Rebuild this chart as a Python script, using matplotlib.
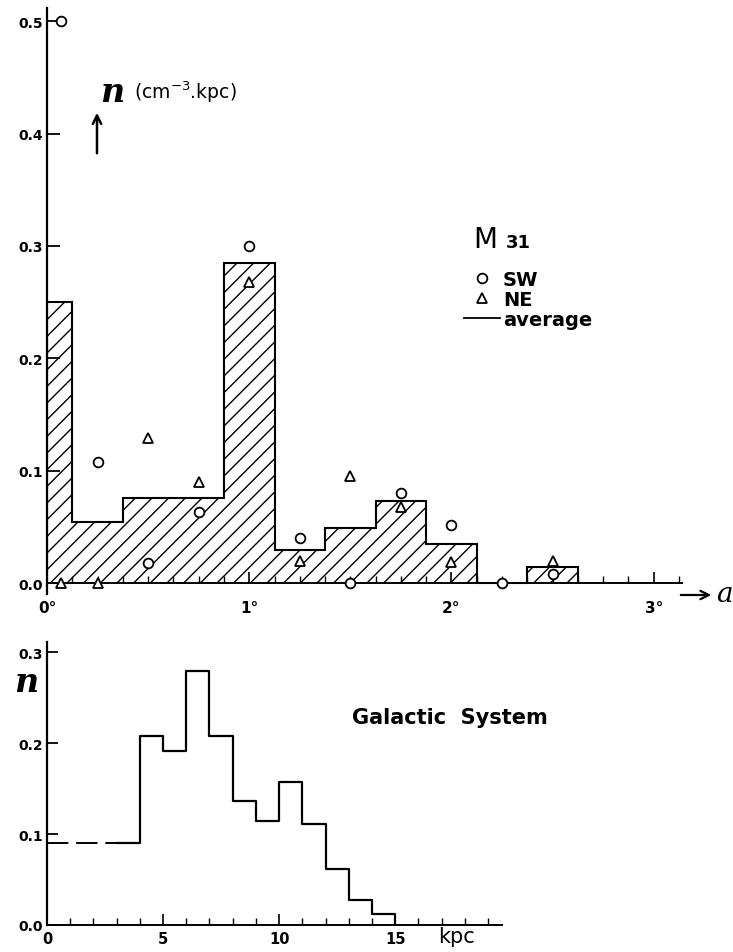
import numpy as np
import matplotlib
matplotlib.use("Agg")
import matplotlib.pyplot as plt
from matplotlib.lines import Line2D
from matplotlib.ticker import MultipleLocator, FixedLocator

# ---------------- data ----------------
# M31: averaged histogram (bin edges in degrees, n in cm^-3 kpc)
m31_edges = [0.0, 0.125, 0.375, 0.875, 1.125, 1.375, 1.625, 1.875, 2.125, 2.375, 2.625]
m31_avg = [0.250, 0.054, 0.076, 0.285, 0.029, 0.049, 0.073, 0.035, 0.0, 0.014]

# individual points
alpha_pts = [0.07, 0.25, 0.5, 0.75, 1.0, 1.25, 1.5, 1.75, 2.0, 2.25, 2.5]
sw_vals = [0.500, 0.108, 0.018, 0.063, 0.300, 0.040, 0.000, 0.080, 0.052, 0.000, 0.008]
ne_vals = [0.000, 0.000, 0.129, 0.090, 0.268, 0.020, 0.095, 0.068, 0.019, np.nan, 0.020]

m31_yticks = [0.0, 0.1, 0.2, 0.3, 0.4, 0.5]
m31_xticks = [0, 1, 2, 3]
m31_xticklabels = ["0°", "1°", "2°", "3°"]

# Galactic system histogram (kpc)
gal_edges = [3, 4, 5, 6, 7, 8, 9, 10, 11, 12, 13, 14, 15]
gal_vals = [0.090, 0.208, 0.191, 0.279, 0.208, 0.136, 0.114, 0.157, 0.111, 0.062, 0.027, 0.012]
gal_inner_x = [0, 3]          # dashed extrapolation
gal_inner_val = 0.090
gal_yticks = [0.0, 0.1, 0.2, 0.3]
gal_xticks = [0, 5, 10, 15]

# ---------------- figure ----------------
W, H = 733, 953
fig = plt.figure(figsize=(W / 100, H / 100), dpi=100)
plt.rcParams['hatch.linewidth'] = 1.0

def fx(px):
    return px / W

def fy(py):
    return 1 - py / H

tickfont = dict(family="DejaVu Sans", weight="bold", size=10)

# ---------------- top panel ----------------
ax1 = fig.add_axes([fx(47), fy(595.3), 635 / W, 586.6 / H])
ax1.set_xlim(0, 3.14)
ax1.set_ylim(-0.01, 0.512)
for s in ["top", "right"]:
    ax1.spines[s].set_visible(False)
ax1.spines["bottom"].set_position(("data", 0))
ax1.spines["left"].set_linewidth(1.6)
ax1.spines["bottom"].set_linewidth(1.4)

widths = np.diff(m31_edges)
# hatched fill without individual bar outlines
ax1.bar(m31_edges[:-1], m31_avg, width=widths, align="edge", facecolor="none",
        hatch="//", edgecolor="black", linewidth=0, zorder=2)
# histogram outline
ax1.stairs(m31_avg, m31_edges, baseline=0, color="black", lw=1.5, zorder=3)

ax1.plot(alpha_pts, sw_vals, ls="none", marker="o", ms=7, mfc="white",
         mec="black", mew=1.3, clip_on=False, zorder=4)
ax1.plot(alpha_pts, ne_vals, ls="none", marker="^", ms=7.5, mfc="white",
         mec="black", mew=1.3, clip_on=False, zorder=4)

ax1.yaxis.set_major_locator(FixedLocator(m31_yticks))
ax1.set_yticklabels([f"{v:.1f}" for v in m31_yticks], fontdict=tickfont)
ax1.xaxis.set_major_locator(FixedLocator(m31_xticks))
ax1.xaxis.set_minor_locator(MultipleLocator(0.125))
ax1.set_xticklabels(m31_xticklabels, fontdict=dict(family="DejaVu Sans", weight="bold", size=11))
ax1.tick_params(axis="y", direction="in", length=9, width=1.3, pad=3)
ax1.tick_params(axis="x", which="major", direction="in", length=8, width=1.2, pad=12)
ax1.tick_params(axis="x", which="minor", direction="in", length=5, width=1.0)

# y-label with arrow
fig.text(fx(100), fy(92), "n", fontsize=24, family="DejaVu Serif", style="italic",
         weight="bold", va="center", ha="left")
fig.text(fx(134), fy(92), r"(cm$^{-3}$.kpc)", fontsize=13.5, family="DejaVu Sans",
         va="center", ha="left")
fig.add_artist(matplotlib.patches.FancyArrowPatch(
    (fx(97), fy(157)), (fx(97), fy(111)), transform=fig.transFigure,
    arrowstyle="->,head_length=6,head_width=3", lw=1.8, color="black"))

# x-label with arrow
fig.add_artist(matplotlib.patches.FancyArrowPatch(
    (fx(678), fy(596)), (fx(714), fy(596)), transform=fig.transFigure,
    arrowstyle="->,head_length=6,head_width=3", lw=1.6, color="black"))
fig.text(fx(716), fy(594), "a", fontsize=20, family="DejaVu Serif", style="italic",
         va="center", ha="left")

# M31 title and legend
fig.text(fx(473), fy(240), "M", fontsize=20, family="DejaVu Sans", va="center", ha="left")
fig.text(fx(506), fy(243), "31", fontsize=13, family="DejaVu Sans", weight="bold",
         va="center", ha="left")
handles = [Line2D([], [], ls="none", marker="o", ms=7, mfc="white", mec="black", mew=1.3),
           Line2D([], [], ls="none", marker="^", ms=7, mfc="white", mec="black", mew=1.3),
           Line2D([], [], color="black", lw=1.3)]
fig.legend(handles, ["SW", "NE", "average"], loc="upper left",
           bbox_to_anchor=(fx(464), fy(271)), frameon=False,
           prop=dict(family="DejaVu Sans", weight="bold", size=14),
           handlelength=1.85, handletextpad=0.15, labelspacing=0.05,
           borderpad=0, borderaxespad=0)

# ---------------- bottom panel ----------------
ax2 = fig.add_axes([fx(47), fy(926), 455 / W, 283 / H])
ax2.set_xlim(0, 19.6)
ax2.set_ylim(0, 0.311)
for s in ["top", "right"]:
    ax2.spines[s].set_visible(False)
ax2.spines["left"].set_linewidth(1.6)
ax2.spines["bottom"].set_linewidth(1.4)

ax2.step(gal_edges, list(gal_vals) + [0.0], where="post", color="black",
         lw=1.6, zorder=3)
ax2.plot(gal_inner_x, [gal_inner_val] * len(gal_inner_x), color="black", lw=1.4,
         dashes=(11, 4), zorder=3)

ax2.yaxis.set_major_locator(FixedLocator(gal_yticks))
ax2.set_yticklabels([f"{v:.1f}" for v in gal_yticks], fontdict=tickfont)
ax2.xaxis.set_major_locator(FixedLocator(gal_xticks))
ax2.xaxis.set_minor_locator(MultipleLocator(1))
ax2.set_xticklabels([str(v) for v in gal_xticks], fontdict=dict(family="DejaVu Sans", weight="bold", size=10.5))
ax2.tick_params(axis="y", direction="in", length=8, width=1.3, pad=3)
ax2.tick_params(axis="x", which="major", direction="in", length=8, width=1.2, pad=4)
ax2.tick_params(axis="x", which="minor", direction="in", length=5, width=1.0)

fig.text(fx(438), fy(937), "kpc", fontsize=15, family="DejaVu Sans", va="center", ha="left")
fig.text(fx(14), fy(683), "n", fontsize=24, family="DejaVu Serif", style="italic",
         weight="bold", va="center", ha="left")
fig.text(fx(352), fy(718), "Galactic  System", fontsize=15, family="DejaVu Sans",
         weight="bold", va="center", ha="left")

fig.savefig("out.png", dpi=100)
